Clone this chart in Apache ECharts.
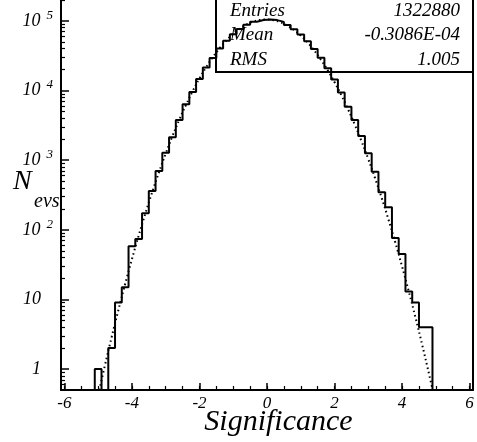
<!DOCTYPE html>
<html>
<head>
<meta charset="utf-8">
<script src="https://cdn.jsdelivr.net/npm/echarts@6/dist/echarts.min.js"></script>
<style>
  html, body { margin: 0; padding: 0; background: #fff; }
  #chart { width: 477px; height: 442px; }
</style>
</head>
<body>
<div id="chart"></div>
<script>
// histogram: 61 bins of width 0.2 from -6.1 to 6.1
const binLow = -6.1;
const binWidth = 0.2;
const counts = [
  0, 0, 0, 0, 0, 1, 0, 2, 9, 15,
  58, 74, 173, 361, 700, 1282, 2132, 3777, 6345, 9510,
  14620, 21530, 29300, 40100, 52000, 64500, 76800, 88000, 97200, 103100,
  105100,
  102900, 96900, 87700, 76300, 63900, 51300, 39700, 29500, 21000, 14480,
  9420, 5860, 3776, 2224, 1256, 684, 346, 211, 76, 45,
  13, 9, 4, 4, 0, 0, 0, 0, 0, 0
];

// gaussian fit (dotted)
const fitX = [-4.966, -4.8, -4.6, -4.4, -4.2, -4.0, -3.8, -3.6, -3.4, -3.2, -3.0,
  -2.8, -2.6, -2.4, -2.2, -2.0, -1.8, -1.6, -1.4, -1.2, -1.0,
  -0.8, -0.6, -0.4, -0.2, 0.0, 0.2, 0.4, 0.6, 0.8, 1.0,
  1.2, 1.4, 1.6, 1.8, 2.0, 2.2, 2.4, 2.6, 2.8, 3.0,
  3.2, 3.4, 3.6, 3.8, 4.0, 4.2, 4.4, 4.6, 4.8, 4.906];
const fitY = [0.5, 1.124, 2.875, 7.07, 16.69, 37.85, 82.46, 172.6, 346.9, 669.8, 1242,
  2213, 3787, 6225, 9828, 14906, 21716, 30389, 40846, 52737, 65410,
  77927, 89168, 98012, 103485, 104952, 102243, 95674, 85997, 74250, 61578,
  49054, 37535, 27590, 19480, 13212, 8607, 5385, 3237, 1869, 1036,
  552, 282.5, 138.9, 65.6, 29.7, 12.95, 5.42, 2.18, 0.841, 0.5];

// axes
const xLabels = [-6, -4, -2, 0, 2, 4, 6];
const xMinor = [-6, -5.5, -5, -4.5, -4, -3.5, -3, -2.5, -2, -1.5, -1, -0.5, 0,
  0.5, 1, 1.5, 2, 2.5, 3, 3.5, 4, 4.5, 5, 5.5, 6];
const yLabels = [1, 10, 100, 1000, 10000, 100000];
const yMinor = [0.6, 0.7, 0.8, 0.9,
  2, 3, 4, 5, 6, 7, 8, 9,
  20, 30, 40, 50, 60, 70, 80, 90,
  200, 300, 400, 500, 600, 700, 800, 900,
  2000, 3000, 4000, 5000, 6000, 7000, 8000, 9000,
  20000, 30000, 40000, 50000, 60000, 70000, 80000, 90000,
  200000];

// stats box
const statNames = ['Entries', 'Mean', 'RMS'];
const statValues = ['1322880', '-0.3086E-04', '1.005'];

const FONT = '"Liberation Serif", "DejaVu Serif", serif';
const Y_MIN = 0.5;
const Y_MAX = 2e5;

// step outline from bin edges (empty bins sit on the floor)
const histLine = [];
counts.forEach((c, i) => {
  const lo = +(binLow + i * binWidth).toFixed(2);
  const hi = +(lo + binWidth).toFixed(2);
  const v = c > 0 ? c : Y_MIN;
  histLine.push([lo, v], [hi, v]);
});

const fitLine = fitX.map((x, i) => [x, fitY[i]]);

const chart = echarts.init(document.getElementById('chart'), null, { renderer: 'canvas' });

const axisBlack = { show: true, onZero: false, lineStyle: { color: '#000', width: 2 } };
const noLine = { show: false, onZero: false };

const option = {
  animation: false,
  backgroundColor: '#fff',
  grid: { left: 61, right: 4, top: 0, bottom: 52, containLabel: false, outerBoundsMode: 'none' },
  xAxis: [
    {
      type: 'value', min: -6.1, max: 6.1,
      axisLine: axisBlack,
      splitLine: { show: false },
      axisTick: { show: true, inside: true, length: 7, customValues: xLabels, lineStyle: { color: '#000', width: 1.5 } },
      axisLabel: {
        customValues: xLabels, margin: 5,
        color: '#000', fontFamily: FONT, fontStyle: 'italic', fontSize: 17,
        formatter: v => String(v)
      },
      name: 'Significance',
      nameLocation: 'middle',
      nameMoveOverlap: false,
      nameGap: 17,
      nameTextStyle: { color: '#000', fontFamily: FONT, fontStyle: 'italic', fontSize: 30, padding: [0, 0, 0, 23], verticalAlign: 'top' }
    },
    {
      type: 'value', min: -6.1, max: 6.1, position: 'bottom',
      axisLine: noLine,
      splitLine: { show: false },
      axisLabel: { show: false },
      axisTick: { show: true, inside: true, length: 4, customValues: xMinor, lineStyle: { color: '#000', width: 1.2 } }
    }
  ],
  yAxis: [
    {
      type: 'log', logBase: 10, min: Y_MIN, max: Y_MAX,
      axisLine: axisBlack,
      splitLine: { show: false },
      axisTick: { show: true, inside: true, length: 8, customValues: yLabels, lineStyle: { color: '#000', width: 1.5 } },
      axisLabel: {
        customValues: yLabels, margin: 8,
        formatter: v => {
          const e = Math.round(Math.log10(v));
          if (e === 0) return '{b|1}{g|}';
          if (e === 1) return '{b|10}{g|}';
          return '{b|10}{s|' + e + '}';
        },
        rich: {
          b: { color: '#000', fontFamily: FONT, fontStyle: 'italic', fontSize: 18, lineHeight: 24, verticalAlign: 'middle' },
          s: { color: '#000', fontFamily: FONT, fontStyle: 'italic', fontSize: 13, lineHeight: 13, verticalAlign: 'top', padding: [0, 0, 0, 6] },
          g: { width: 12 }
        }
      }
    },
    {
      type: 'log', logBase: 10, min: Y_MIN, max: Y_MAX, position: 'left',
      axisLine: noLine,
      splitLine: { show: false },
      axisLabel: { show: false },
      axisTick: { show: true, inside: true, length: 4, customValues: yMinor, lineStyle: { color: '#000', width: 1.2 } }
    },
    {
      type: 'log', logBase: 10, min: Y_MIN, max: Y_MAX, position: 'right',
      axisLine: axisBlack,
      splitLine: { show: false },
      axisLabel: { show: false },
      axisTick: { show: false }
    }
  ],
  series: [
    {
      name: 'data', type: 'line', data: histLine,
      showSymbol: false, symbol: 'none',
      lineStyle: { color: '#000', width: 2 },
      z: 3
    },
    {
      name: 'fit', type: 'line', data: fitLine,
      showSymbol: false, symbol: 'none', smooth: true,
      lineStyle: { color: '#000', width: 2, type: [1.5, 3] },
      z: 4
    }
  ],
  graphic: [
    // y axis title N_evs
    {
      type: 'text', z: 11, left: 13, top: 168,
      style: { text: 'N', fill: '#000', font: 'italic 28px ' + FONT }
    },
    {
      type: 'text', z: 11, left: 34, top: 192,
      style: { text: 'evs', fill: '#000', font: 'italic 20px ' + FONT }
    },
    // stats box
    {
      type: 'rect', z: 10,
      shape: { x: 216, y: -3, width: 257, height: 75 },
      style: { fill: 'none', stroke: '#000', lineWidth: 2 }
    },
    ...statNames.map((t, i) => ({
      type: 'text', z: 11, left: 230, top: 1 + i * 24.5,
      style: { text: t, fill: '#000', font: 'italic 19px ' + FONT }
    })),
    ...statValues.map((t, i) => ({
      type: 'text', z: 11, right: 17, top: 1 + i * 24.5,
      style: { text: t, fill: '#000', font: 'italic 19px ' + FONT }
    }))
  ]
};

chart.setOption(option);
</script>
</body>
</html>
